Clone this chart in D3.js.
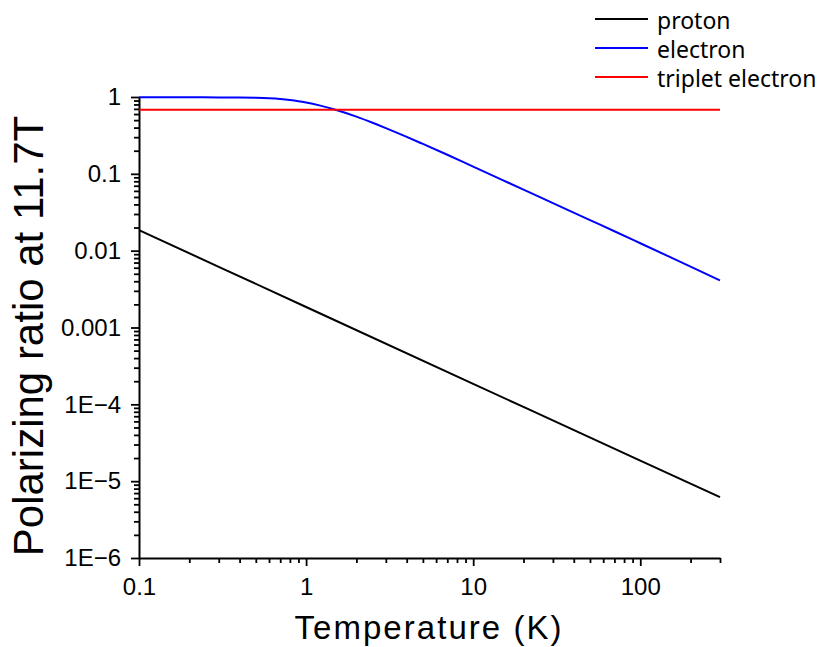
<!DOCTYPE html>
<html>
<head>
<meta charset="utf-8">
<script src="https://cdn.jsdelivr.net/npm/d3@7/dist/d3.min.js"></script>
<style>
  html, body { margin: 0; padding: 0; background: #fff; }
  svg { display: block; }
</style>
</head>
<body>
<svg id="chart" width="819" height="647"></svg>
<script>
// ---- data ----
const seriesNames = ["proton", "electron", "triplet electron"];
const seriesColors = ["#000000", "#0000ff", "#ff0000"];

const protonT = [0.1, 1, 10, 100, 300];
const protonP = [0.0185, 0.00185, 0.000185, 0.0000185, 0.0000062];

const electronT = [0.1, 0.2, 0.3, 0.4, 0.5, 0.6, 0.7, 0.8, 0.9, 1, 1.2, 1.5, 2, 2.5, 3, 4, 5, 7, 10, 15, 20, 30, 50, 70, 100, 150, 200, 300];
const electronP = [0.99, 0.99, 0.988, 0.983, 0.975, 0.962, 0.942, 0.915, 0.883, 0.848, 0.778, 0.682, 0.555, 0.462, 0.394, 0.303, 0.245, 0.177, 0.124, 0.083, 0.0624, 0.0416, 0.025, 0.0179, 0.0125, 0.0083, 0.0062, 0.0041];

const tripletT = [0.1, 300];
const tripletP = [0.68, 0.68];

const xMajor = [0.1, 1, 10, 100];
const xMajorLabels = ["0.1", "1", "10", "100"];
const xMinor = [0.2,0.3,0.4,0.5,0.6,0.7,0.8,0.9,2,3,4,5,6,7,8,9,20,30,40,50,60,70,80,90,200,300];
const yMajor = [1, 0.1, 0.01, 0.001, 1e-4, 1e-5, 1e-6];
const yMajorLabels = ["1", "0.1", "0.01", "0.001", "1E\u22124", "1E\u22125", "1E\u22126"];
const yMinor = [];
[1e-6, 1e-5, 1e-4, 1e-3, 1e-2, 1e-1].forEach(d => { for (let k = 2; k <= 9; k++) yMinor.push(d * k); });

const xTitle = "Temperature (K)";
const yTitle = "Polarizing ratio at 11.7T";

// ---- layout ----
const svg = d3.select("#chart");
const x = d3.scaleLog().domain([0.1, 300]).range([139, 720]);
const y = d3.scaleLog().domain([1e-6, 1]).range([558, 97]);
const font = "'Liberation Sans', Arial, sans-serif";

// x axis
const gx = svg.append("g").attr("transform", `translate(0,${y(1e-6)})`);
gx.call(d3.axisBottom(x).tickValues(xMinor).tickSize(5).tickFormat(""));
gx.call(g => g.selectAll(".domain").remove());
const gx2 = svg.append("g").attr("transform", `translate(0,${y(1e-6)})`);
gx2.call(d3.axisBottom(x).tickValues(xMajor).tickSize(8).tickPadding(12)
  .tickFormat((d, i) => xMajorLabels[i]).tickSizeOuter(0));

// y axis
const gy = svg.append("g").attr("transform", `translate(${x(0.1)},0)`);
gy.call(d3.axisLeft(y).tickValues(yMinor).tickSize(5).tickFormat(""));
gy.call(g => g.selectAll(".domain").remove());
const gy2 = svg.append("g").attr("transform", `translate(${x(0.1)},0)`);
gy2.call(d3.axisLeft(y).tickValues(yMajor).tickSize(8).tickPadding(10)
  .tickFormat((d, i) => yMajorLabels[i]).tickSizeOuter(0));

svg.selectAll(".domain").attr("stroke", "#000").attr("stroke-width", 2);
svg.selectAll(".tick line").attr("stroke", "#000").attr("stroke-width", 1.8);
svg.selectAll(".tick text").attr("font-family", font).attr("font-size", 24).attr("fill", "#000");

// lines
const line = d3.line().curve(d3.curveMonotoneX).x(d => x(d[0])).y(d => y(d[1]));
const series = [
  d3.zip(protonT, protonP),
  d3.zip(electronT, electronP),
  d3.zip(tripletT, tripletP)
];
series.forEach((s, i) => {
  svg.append("path").datum(s)
    .attr("d", line)
    .attr("fill", "none")
    .attr("stroke", seriesColors[i])
    .attr("stroke-width", 2);
});

// axis titles
svg.append("text")
  .attr("x", 428).attr("y", 639)
  .attr("text-anchor", "middle")
  .attr("font-family", font).attr("font-size", 33)
  .attr("textLength", 267).attr("lengthAdjust", "spacing")
  .text(xTitle);

svg.append("text")
  .attr("transform", `translate(43,336) rotate(-90)`)
  .attr("text-anchor", "middle")
  .attr("font-family", font).attr("font-size", 42)
  .text(yTitle);

// legend
const legendY = [19, 48, 77];
seriesNames.forEach((name, i) => {
  svg.append("line")
    .attr("x1", 595).attr("x2", 648)
    .attr("y1", legendY[i]).attr("y2", legendY[i])
    .attr("stroke", seriesColors[i]).attr("stroke-width", 2);
  svg.append("text")
    .attr("x", 657).attr("y", legendY[i] + 9.5)
    .attr("font-family", "'Noto Sans', sans-serif").attr("font-size", 23)
    .attr("fill", "#000")
    .text(name);
});
</script>
</body>
</html>
